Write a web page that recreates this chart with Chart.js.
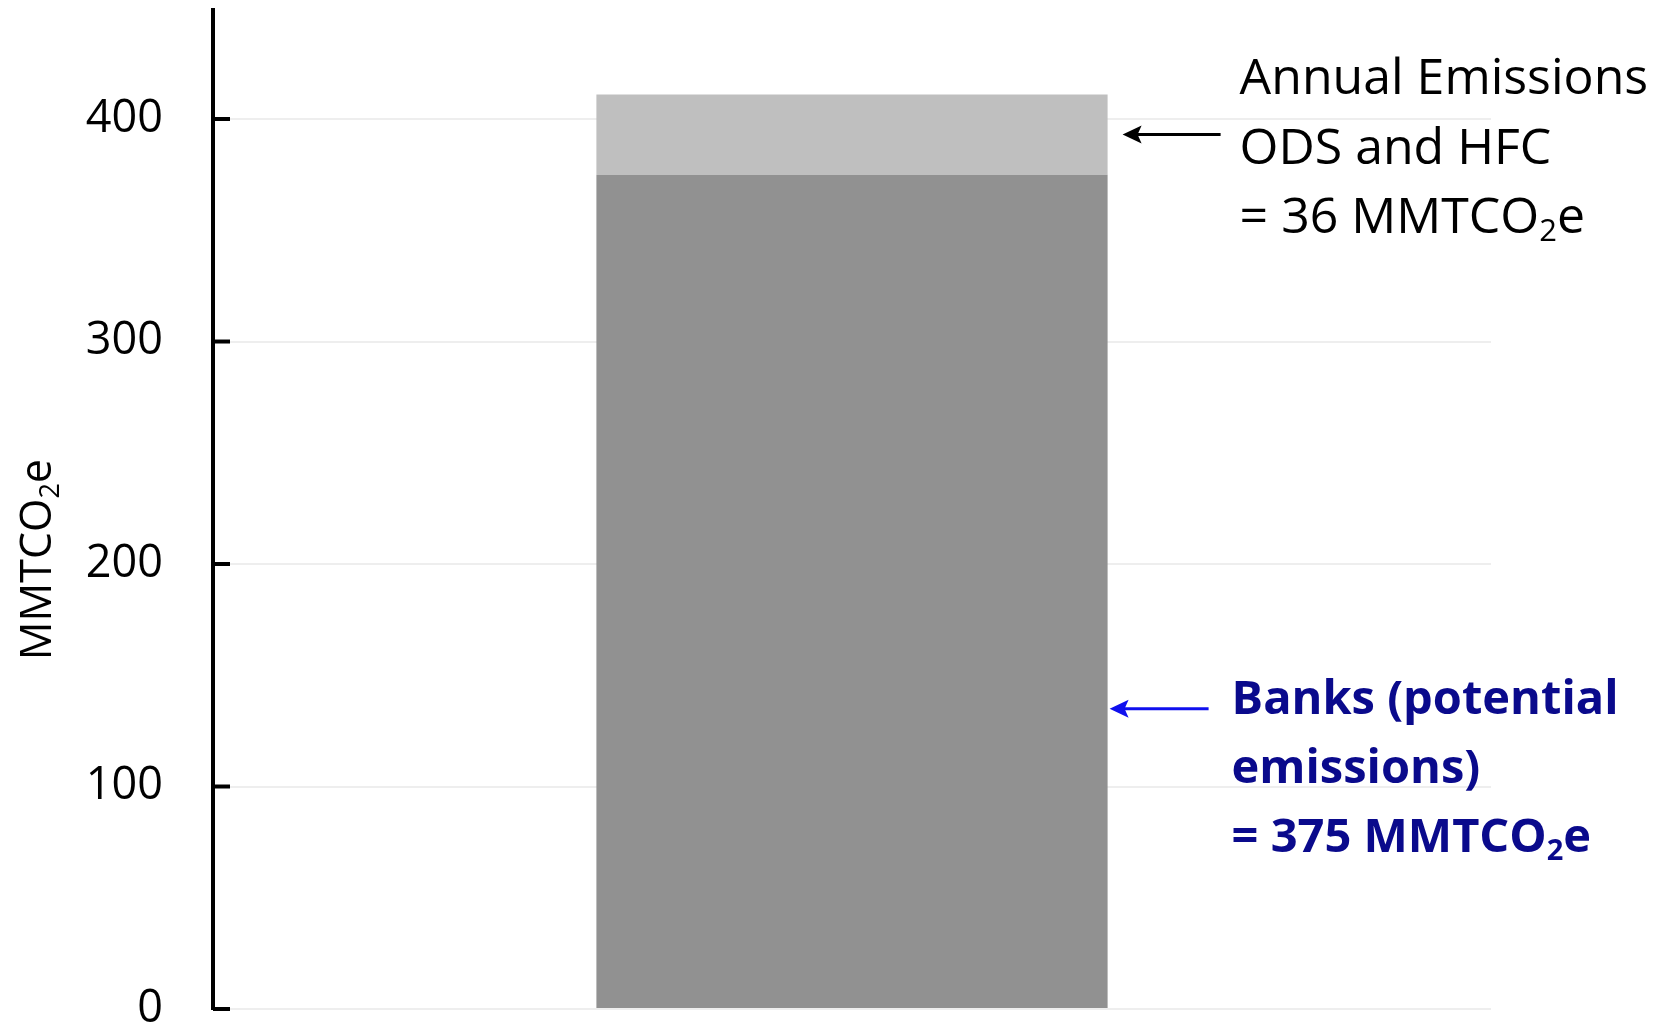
<!DOCTYPE html>
<html>
<head>
<meta charset="utf-8">
<title>ODS and HFC banks</title>
<script src="https://cdn.jsdelivr.net/npm/chart.js@4.4.1/dist/chart.umd.min.js"></script>
<style>
  html, body { margin: 0; padding: 0; background: #ffffff; }
  .canvas-container { position: relative; width: 1658px; height: 1025px; }
</style>
</head>
<body>
<div class="canvas-container">
  <canvas id="myChart"></canvas>
</div>
<script>
// data
const categories = [""];
const banks = [375];          // MMTCO2e, dark segment
const annualEmissions = [36]; // MMTCO2e, light segment on top
const tickValues = [0, 100, 200, 300, 400];
const yMax = 449;

// annotation text
const annualLines = [
  [["Annual Emissions"]],
  [["ODS and HFC"]],
  [["= 36 MMTCO"], ["2", "sub"], ["e"]],
];
const banksLines = [
  [["Banks (potential"]],
  [["emissions)"]],
  [["= 375 MMTCO"], ["2", "sub"], ["e"]],
];
const banksArrowValue = 135;

const FONT = "'Open Sans', 'Noto Sans', sans-serif";

function drawRich(ctx, parts, x, y, size, weight) {
  let cx = x;
  parts.forEach(([txt, kind]) => {
    const s = kind === "sub" ? Math.round(size * 0.62) : size;
    ctx.font = weight + " " + s + "px " + FONT;
    ctx.fillText(txt, cx, kind === "sub" ? y + size * 0.28 : y);
    cx += ctx.measureText(txt).width;
  });
}

function arrow(ctx, x1, x2, y, color) {
  ctx.save();
  ctx.strokeStyle = color;
  ctx.fillStyle = color;
  ctx.lineWidth = 3;
  ctx.beginPath();
  ctx.moveTo(x1, y);
  ctx.lineTo(x2 + 10, y);
  ctx.stroke();
  ctx.beginPath();
  ctx.moveTo(x2, y);
  ctx.lineTo(x2 + 19, y - 9);
  ctx.lineTo(x2 + 15, y);
  ctx.lineTo(x2 + 19, y + 9);
  ctx.closePath();
  ctx.fill();
  ctx.restore();
}

const annotations = {
  id: "annotations",
  afterDatasetsDraw(chart) {
    const { ctx, chartArea, scales } = chart;
    const y = scales.y;
    const bar = chart.getDatasetMeta(1).data[0];
    const barRight = bar.x + bar.width / 2;

    // tick marks on the inner side of the axis
    ctx.save();
    ctx.strokeStyle = "#000000";
    ctx.lineWidth = 4;
    tickValues.forEach(v => {
      const py = y.getPixelForValue(v);
      ctx.beginPath();
      ctx.moveTo(chartArea.left, py);
      ctx.lineTo(chartArea.left + 17, py);
      ctx.stroke();
    });
    ctx.restore();

    // annual emissions arrow + text
    const topMid = y.getPixelForValue(banks[0] + annualEmissions[0] / 2);
    arrow(ctx, barRight + 113, barRight + 15, topMid, "#000000");
    ctx.save();
    ctx.fillStyle = "#000000";
    ctx.textBaseline = "middle";
    ctx.textAlign = "left";
    const aOff = [-55, 15, 84];
    annualLines.forEach((ln, i) => drawRich(ctx, ln, barRight + 132, topMid + aOff[i], 50, "normal"));
    ctx.restore();

    // banks arrow + text
    const bY = y.getPixelForValue(banksArrowValue);
    arrow(ctx, barRight + 101, barRight + 2, bY, "#1010ee");
    ctx.save();
    ctx.fillStyle = "#0a0a8c";
    ctx.textBaseline = "middle";
    ctx.textAlign = "left";
    const bOff = [-8, 61, 130];
    banksLines.forEach((ln, i) => drawRich(ctx, ln, barRight + 124, bY + bOff[i], 47, "bold"));
    ctx.restore();

    // rotated axis title
    ctx.save();
    ctx.translate(39, y.getPixelForValue(202));
    ctx.rotate(-Math.PI / 2);
    ctx.fillStyle = "#000000";
    ctx.textBaseline = "middle";
    const title = [["MMTCO"], ["2", "sub"], ["e"]];
    let w = 0;
    title.forEach(([t, k]) => {
      ctx.font = (k === "sub" ? Math.round(43 * 0.62) : 43) + "px " + FONT;
      w += ctx.measureText(t).width;
    });
    drawRich(ctx, title, -w / 2, 0, 43, "normal");
    ctx.restore();
  }
};

const chartData = {
  labels: categories,
  datasets: [
    {
      label: "Banks",
      data: banks,
      backgroundColor: "#919191",
      borderWidth: 0,
      barPercentage: 0.8,
      categoryPercentage: 0.5,
    },
    {
      label: "Annual Emissions",
      data: annualEmissions,
      backgroundColor: "#bfbfbf",
      borderWidth: 0,
      barPercentage: 0.8,
      categoryPercentage: 0.5,
    },
  ],
};

new Chart(document.getElementById("myChart"), {
  type: "bar",
  data: chartData,
  options: {
    responsive: true,
    maintainAspectRatio: false,
    animation: false,
    layout: { padding: { left: 0, right: 167, top: 10, bottom: 16 } },
    plugins: {
      legend: { display: false },
      tooltip: { enabled: false },
    },
    scales: {
      x: {
        stacked: true,
        display: false,
      },
      y: {
        stacked: true,
        min: 0,
        max: yMax,
        afterFit(scale) {
          scale.width = 213;
          scale.paddingTop = 0;
          scale.paddingBottom = 0;
        },
        afterBuildTicks(scale) {
          scale.ticks = tickValues.map(v => ({ value: v }));
        },
        border: { display: true, color: "#000000", width: 4 },
        grid: { color: "#eeeeee", lineWidth: 2, drawTicks: false },
        ticks: {
          color: "#000000",
          padding: 50,
          font: { family: FONT, size: 45 },
        },
      },
    },
  },
  plugins: [annotations],
});
</script>
</body>
</html>
